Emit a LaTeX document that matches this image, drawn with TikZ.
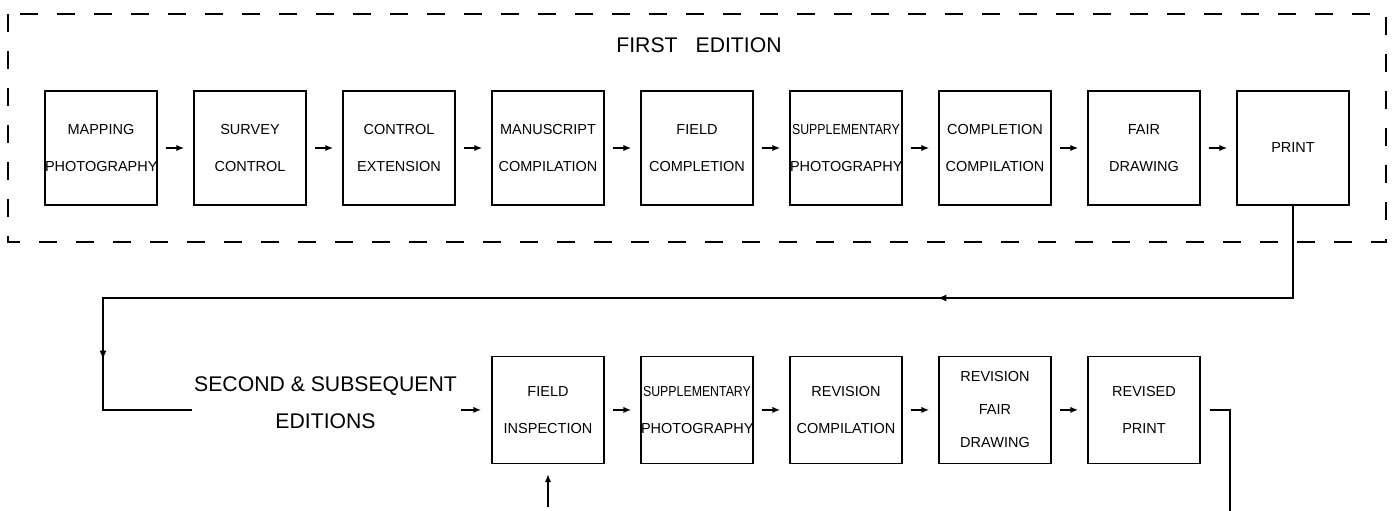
\documentclass[tikz,border=0pt]{standalone}
\usepackage{fontspec}
\setmainfont{Liberation Sans}
\usetikzlibrary{positioning,arrows.meta,decorations.markings}
\tikzset{
  stage/.style={draw, line width=0.7pt, align=center, text width=56pt, inner xsep=0pt, minimum height=57pt, font=\fontsize{7.25pt}{18.5pt}\selectfont},
  revstage/.style={stage, minimum height=53.5pt},
  heading/.style={font=\fontsize{10.6pt}{18.5pt}\selectfont, align=center, inner sep=0pt},
  flow/.style={-{Latex[length=4pt,width=3.2pt]}, line width=0.8pt, shorten <=4pt, shorten >=4.5pt},
  link/.style={line width=0.8pt},
  frame/.style={line width=1pt, dash pattern=on 9pt off 9.5pt},
  midtip/.style={postaction=decorate, decoration={markings,
    mark=at position 224pt with {\arrow{Latex[length=4.5pt,width=3.5pt]}},
    mark=at position 672pt with {\arrow{Latex[length=4.5pt,width=3.5pt]}}}},
}
\newcommand{\squeezed}[1]{\scalebox{0.85}[1]{#1}}
\begin{document}
\begin{tikzpicture}[x=0.5pt, y=-0.5pt, node distance=17.8pt]
  \useasboundingbox (0,0) rectangle (1392,510);
  % first edition
  \draw[frame] (8,14) rectangle (1386,242);
  \node[heading] (fe) at (699,45) {FIRST\hspace{9pt}EDITION};
  \node[stage] (mp) at (101,148) {MAPPING\\PHOTOGRAPHY};
  \node[stage, right=of mp] (sc) {SURVEY\\CONTROL};
  \node[stage, right=of sc] (ce) {CONTROL\\EXTENSION};
  \node[stage, right=of ce] (ms) {MANUSCRIPT\\COMPILATION};
  \node[stage, right=of ms] (fc) {FIELD\\COMPLETION};
  \node[stage, right=of fc] (sp) {\squeezed{SUPPLEMENTARY}\\PHOTOGRAPHY};
  \node[stage, right=of sp] (cc) {COMPLETION\\COMPILATION};
  \node[stage, right=of cc] (fd) {FAIR\\DRAWING};
  \node[stage, right=of fd] (pr) {PRINT};
  \draw[flow] (mp)--(sc); \draw[flow] (sc)--(ce); \draw[flow] (ce)--(ms); \draw[flow] (ms)--(fc);
  \draw[flow] (fc)--(sp); \draw[flow] (sp)--(cc); \draw[flow] (cc)--(fd); \draw[flow] (fd)--(pr);
  % second & subsequent editions
  \node[revstage, below=75pt of ms] (fi) {FIELD\\INSPECTION};
  \node[revstage, right=of fi] (rs) {\squeezed{SUPPLEMENTARY}\\PHOTOGRAPHY};
  \node[revstage, right=of rs] (rc) {REVISION\\COMPILATION};
  \node[revstage, right=of rc, font=\fontsize{7.25pt}{16.5pt}\selectfont] (rd) {REVISION\\FAIR\\DRAWING};
  \node[revstage, right=of rd] (rp) {REVISED\\PRINT};
  \node[heading, left=17pt of fi, yshift=3.5pt] (se) {SECOND \& SUBSEQUENT\\EDITIONS};
  \draw[flow, shorten <=2pt, shorten >=5pt] (se.east |- fi.west)--(fi.west);
  \draw[flow] (fi)--(rs); \draw[flow] (rs)--(rc); \draw[flow] (rc)--(rd); \draw[flow] (rd)--(rp);
  % loop back and loose ends
  \coordinate (fb) at (103,298);
  \coordinate (fiin) at (fi.south |- 0,515);
  \coordinate (rpout) at (1230,515);
  \draw[link, midtip] (pr.south) |- (fb) -- (fb |- fi.west) -- ([xshift=-1pt]se.west |- fi.west);
  \draw[flow, shorten >=5pt] (fiin)--(fi.south);
  \draw[link] ([xshift=4.5pt]rp.east) -| (rpout);
\end{tikzpicture}
\end{document}
